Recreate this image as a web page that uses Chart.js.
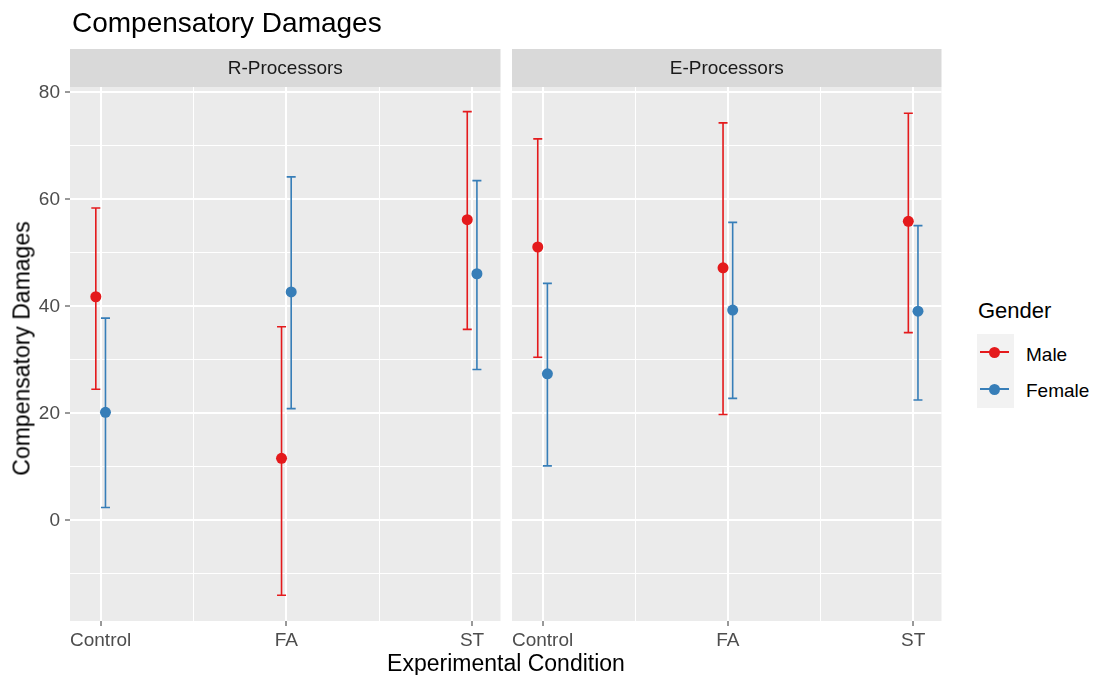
<!DOCTYPE html>
<html>
<head>
<meta charset="utf-8">
<script src="https://cdn.jsdelivr.net/npm/chart.js@4.4.1/dist/chart.umd.min.js"></script>
<style>
  body { margin: 0; background: #fff; font-family: "Liberation Sans", Arial, sans-serif; }
  #wrap { position: relative; width: 1093px; height: 675px; overflow: hidden; }
  canvas { position: absolute; top: 0; }
  .txt { position: absolute; white-space: nowrap; color: #000; }
  #title { left: 72px; top: 9px; font-size: 28px; line-height: 28px; }
  #xtitle { left: 306px; width: 400px; text-align: center; top: 652px; font-size: 23px; line-height: 23px; }
  #ytitle { left: -178px; width: 400px; text-align: center; top: 337px; height: 23px; font-size: 23px; line-height: 23px; transform: rotate(-90deg); }
  #legTitle { left: 978px; top: 300px; font-size: 22px; line-height: 22px; }
  .keybox { position: absolute; left: 977px; width: 37px; height: 37px; background: #F2F2F2; }
  .keyline { position: absolute; left: 3px; width: 29px; height: 2px; top: 17px; }
  .keydot { position: absolute; left: 12px; top: 13px; width: 11px; height: 11px; border-radius: 50%; }
  .legLab { left: 1026px; font-size: 19px; line-height: 19px; }
</style>
</head>
<body>
<div id="wrap">
  <canvas id="left" width="506" height="675" style="left:0px"></canvas>
  <canvas id="right" width="441" height="675" style="left:506px"></canvas>
  <div class="txt" id="title">Compensatory Damages</div>
  <div class="txt" id="xtitle">Experimental Condition</div>
  <div class="txt" id="ytitle">Compensatory Damages</div>
  <div class="txt" id="legTitle">Gender</div>
  <div class="keybox" style="top:334px"><div class="keyline" style="background:#E41A1C"></div><div class="keydot" style="background:#E41A1C"></div></div>
  <div class="keybox" style="top:371px"><div class="keyline" style="background:#377EB8"></div><div class="keydot" style="background:#377EB8"></div></div>
  <div class="txt legLab" style="top:345px">Male</div>
  <div class="txt legLab" style="top:381px">Female</div>
</div>
<script>
const conditions = ["Control", "FA", "ST"];

// R-Processors
const maleR = [41.8, 11.6, 56.2];
const maleRLow = [24.5, -14.0, 35.7];
const maleRHigh = [58.4, 36.2, 76.4];
const femaleR = [20.2, 42.7, 46.1];
const femaleRLow = [2.4, 20.9, 28.2];
const femaleRHigh = [37.8, 64.2, 63.5];

// E-Processors
const maleE = [51.1, 47.2, 55.9];
const maleELow = [30.5, 19.8, 35.1];
const maleEHigh = [71.3, 74.3, 76.1];
const femaleE = [27.4, 39.3, 39.1];
const femaleELow = [10.2, 22.8, 22.5];
const femaleEHigh = [44.3, 55.7, 55.1];

const xTicks = [0, 0.5, 1, 1.5, 2];
const yTicks = [-10, 0, 10, 20, 30, 40, 50, 60, 70, 80];

const red = "#E41A1C";
const blue = "#377EB8";
const dodge = 0.026;

Chart.defaults.font.family = "'Liberation Sans', Arial, sans-serif";

function makeSet(label, vals, low, high, color, shift) {
  return {
    label: label,
    data: vals.map((v, i) => ({ x: i + shift, y: v })),
    low: low,
    high: high,
    backgroundColor: color,
    borderColor: color,
    borderWidth: 0,
    pointRadius: 5.5,
    pointHoverRadius: 5.5,
  };
}

const panelBg = {
  id: "panelBg",
  beforeDraw(chart, args, opts) {
    const { ctx, chartArea: a } = chart;
    ctx.save();
    ctx.fillStyle = "#EBEBEB";
    ctx.fillRect(a.left, a.top, a.right - a.left, a.bottom - a.top);
    ctx.fillStyle = "#D9D9D9";
    ctx.fillRect(a.left, 49, a.right - a.left, a.top - 49);
    ctx.fillStyle = "#1A1A1A";
    ctx.font = "19px 'Liberation Sans', Arial, sans-serif";
    ctx.textAlign = "center";
    ctx.textBaseline = "middle";
    ctx.fillText(opts.label, (a.left + a.right) / 2, 69);
    ctx.restore();
  },
};

const errorBars = {
  id: "errorBars",
  beforeDatasetsDraw(chart) {
    const { ctx, scales: { x, y } } = chart;
    chart.data.datasets.forEach((ds) => {
      ctx.save();
      ctx.strokeStyle = ds.borderColor;
      ctx.lineWidth = 1.6;
      ds.data.forEach((p, i) => {
        const px = x.getPixelForValue(p.x);
        const top = y.getPixelForValue(ds.high[i]);
        const bot = y.getPixelForValue(ds.low[i]);
        ctx.beginPath();
        ctx.moveTo(px, top);
        ctx.lineTo(px, bot);
        ctx.moveTo(px - 4.5, top);
        ctx.lineTo(px + 4.5, top);
        ctx.moveTo(px - 4.5, bot);
        ctx.lineTo(px + 4.5, bot);
        ctx.stroke();
      });
      ctx.restore();
    });
  },
};

function panel(id, strip, sets, showY) {
  return new Chart(document.getElementById(id), {
    type: "scatter",
    data: { datasets: sets },
    options: {
      responsive: false,
      animation: false,
      events: [],
      layout: { padding: { top: 87, right: 5, left: 0, bottom: 0 } },
      plugins: {
        legend: { display: false },
        tooltip: { enabled: false },
        panelBg: { label: strip },
      },
      scales: {
        x: {
          type: "linear",
          min: -0.165,
          max: 2.153,
          afterBuildTicks: (s) => { s.ticks = xTicks.map((v) => ({ value: v })); },
          afterFit: (s) => { s.height = 54; },
          border: { display: false },
          grid: {
            color: "#FFFFFF",
            lineWidth: (c) => (c.tick && Number.isInteger(c.tick.value) ? 2 : 1),
            tickColor: (c) => (c.tick && Number.isInteger(c.tick.value) ? "#333333" : "rgba(0,0,0,0)"),
            tickLength: 5,
            tickWidth: 1,
          },
          ticks: {
            autoSkip: false,
            maxRotation: 0,
            padding: 3,
            color: "#4D4D4D",
            font: { size: 19 },
            callback: (v) => (Number.isInteger(v) ? conditions[v] : ""),
          },
        },
        y: {
          min: -18.8,
          max: 81.0,
          afterBuildTicks: (s) => { s.ticks = yTicks.map((v) => ({ value: v })); },
          afterFit: (s) => { s.width = showY ? 70 : 6; },
          border: { display: false },
          grid: {
            color: "#FFFFFF",
            lineWidth: (c) => (c.tick && c.tick.value % 20 === 0 ? 2 : 1),
            tickColor: (c) => (c.tick && c.tick.value % 20 === 0 ? "#333333" : "rgba(0,0,0,0)"),
            drawTicks: showY,
            tickLength: 5,
            tickWidth: 1,
          },
          ticks: {
            display: showY,
            padding: 5,
            color: "#4D4D4D",
            font: { size: 19 },
            callback: (v) => (v % 20 === 0 ? String(v) : ""),
          },
        },
      },
    },
    plugins: [panelBg, errorBars],
  });
}

panel("left", "R-Processors", [
  makeSet("Male", maleR, maleRLow, maleRHigh, red, -dodge),
  makeSet("Female", femaleR, femaleRLow, femaleRHigh, blue, dodge),
], true);

panel("right", "E-Processors", [
  makeSet("Male", maleE, maleELow, maleEHigh, red, -dodge),
  makeSet("Female", femaleE, femaleELow, femaleEHigh, blue, dodge),
], false);
</script>
</body>
</html>
